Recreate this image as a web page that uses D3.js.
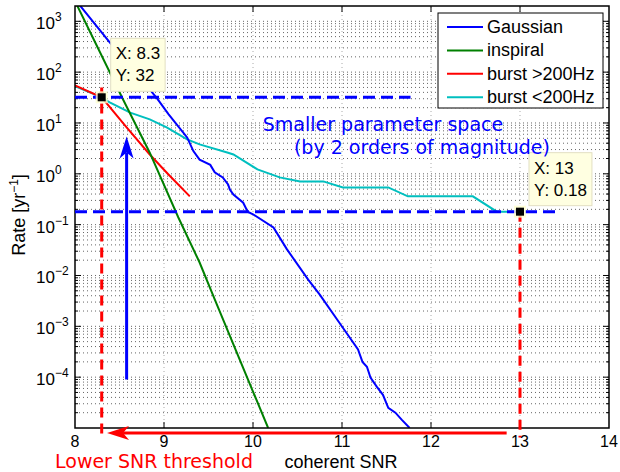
<!DOCTYPE html>
<html>
<head>
<meta charset="utf-8">
<script src="https://cdn.jsdelivr.net/npm/d3@7"></script>
<style>
  body { margin: 0; background: #fff; }
  svg text { font-family: "Liberation Sans", Arial, sans-serif; }
</style>
</head>
<body>
<div id="chart"></div>
<script>
// axis ticks
var snrTicks = [8, 9, 10, 11, 12, 13, 14];
var rateExps = [-4, -3, -2, -1, 0, 1, 2, 3];

// curves
var seriesNames = ["Gaussian", "inspiral", "burst >200Hz", "burst <200Hz"];
var seriesColors = ["#0000ff", "#008000", "#ff0000", "#00bfbf"];

var gaussSnr  = [8.0, 8.39, 8.84, 8.93, 9.05, 9.16, 9.26, 9.33, 9.40, 9.52, 9.57, 9.66, 9.72, 9.74, 9.78, 9.89, 9.94, 10.0, 10.23, 10.38, 10.62, 10.75, 11.0, 11.18, 11.23, 11.28, 11.32, 11.39, 11.46, 11.52, 11.60, 11.67, 11.76];
var gaussRate = [2700, 386, 46, 29, 15, 8.6, 5.2, 2.8, 1.9, 1.5, 1.07, 0.85, 0.62, 0.49, 0.39, 0.27, 0.18, 0.16, 0.088, 0.033, 0.0083, 0.0042, 0.00099, 3.5e-4, 2.0e-4, 1.6e-4, 9.8e-5, 6.5e-5, 4.5e-5, 2.5e-5, 2.0e-5, 1.46e-5, 1.0e-5];

var inspSnr  = [8.0, 8.54, 8.84, 9.16, 9.40, 9.57, 10.17];
var inspRate = [2500, 29, 2.6, 0.14, 0.018, 0.0034, 1.0e-5];

var burstHiSnr  = [8.0, 8.3, 8.58, 8.84, 9.05, 9.29];
var burstHiRate = [55, 32, 8.2, 2.4, 0.97, 0.36];

var burstLoSnr  = [8.0, 8.28, 8.39, 8.62, 8.84, 9.03, 9.26, 9.40, 9.72, 9.78, 10.05, 10.30, 10.53, 10.79, 11.01, 11.52, 11.74, 12.47, 12.74, 13.0];
var burstLoRate = [53, 33, 25.5, 16, 11.8, 8.2, 4.75, 3.8, 2.6, 2.4, 1.22, 0.85, 0.71, 0.71, 0.54, 0.54, 0.36, 0.36, 0.18, 0.18];

// data tips
var tipSnr  = [8.3, 13];
var tipRate = [32, 0.18];
var tipText = [["X: 8.3", "Y: 32"], ["X: 13", "Y: 0.18"]];

// annotation lines
var hLineRate = [32, 0.18];
var hLineEnd  = [11.77, 13.43];
var vLineSnr  = [8.3, 13];
var vLineTop  = [50, 0.18];
var vLineBottom = 6.5e-6;
var redArrowSnr = [12.85, 8.36], redArrowRate = 8e-6;
var blueArrowSnr = 8.58, blueArrowRate = [9e-5, 5.4];

var W = 620, H = 472;
var margin = {left: 75, right: 11, top: 6, bottom: 44};

var x = d3.scaleLinear().domain([8, 14]).range([margin.left, W - margin.right]);
var y = d3.scaleLog().domain([1e-5, 2000]).range([H - margin.bottom, margin.top]);

var svg = d3.select("#chart").append("svg").attr("width", W).attr("height", H);

svg.append("defs").append("clipPath").attr("id", "clip")
  .append("rect").attr("x", x(8)).attr("y", y(2000))
  .attr("width", x(14) - x(8)).attr("height", y(1e-5) - y(2000));

// grid
var minorVals = y.ticks().filter(function(v) { return v > 1e-5 && v < 2000; });
var grid = svg.append("g");
grid.selectAll("line.h").data(minorVals).enter().append("line")
  .attr("x1", x(8)).attr("x2", x(14))
  .attr("y1", function(d) { return y(d); }).attr("y2", function(d) { return y(d); })
  .attr("stroke", "#666").attr("stroke-width", 1).attr("stroke-dasharray", "1,3");
grid.selectAll("line.v").data(snrTicks.slice(1, -1)).enter().append("line")
  .attr("y1", y(1e-5)).attr("y2", y(2000))
  .attr("x1", function(d) { return x(d); }).attr("x2", function(d) { return x(d); })
  .attr("stroke", "#aaa").attr("stroke-width", 1).attr("stroke-dasharray", "1,3");

// ticks inside the box
var tk = svg.append("g").attr("stroke", "#000").attr("stroke-width", 1);
minorVals.forEach(function(v) {
  var major = Math.abs(Math.log10(v) - Math.round(Math.log10(v))) < 1e-9;
  var len = major ? 6 : 3;
  tk.append("line").attr("x1", x(8)).attr("x2", x(8) + len).attr("y1", y(v)).attr("y2", y(v));
  tk.append("line").attr("x1", x(14)).attr("x2", x(14) - len).attr("y1", y(v)).attr("y2", y(v));
});
snrTicks.slice(1, -1).forEach(function(v) {
  tk.append("line").attr("x1", x(v)).attr("x2", x(v)).attr("y1", y(1e-5)).attr("y2", y(1e-5) - 6);
  tk.append("line").attr("x1", x(v)).attr("x2", x(v)).attr("y1", y(2000)).attr("y2", y(2000) + 6);
});

// curves
var line = d3.line().x(function(d) { return x(d[0]); }).y(function(d) { return y(d[1]); });
var curves = [
  d3.zip(gaussSnr, gaussRate),
  d3.zip(inspSnr, inspRate),
  d3.zip(burstHiSnr, burstHiRate),
  d3.zip(burstLoSnr, burstLoRate)
];
var plot = svg.append("g").attr("clip-path", "url(#clip)");
[3, 2, 1, 0].forEach(function(i) {
  plot.append("path").attr("d", line(curves[i])).attr("fill", "none")
    .attr("stroke", seriesColors[i]).attr("stroke-width", 2);
});

// axes box
svg.append("rect").attr("x", x(8)).attr("y", y(2000))
  .attr("width", x(14) - x(8)).attr("height", y(1e-5) - y(2000))
  .attr("fill", "none").attr("stroke", "#000").attr("stroke-width", 1.5);

// dashed guide lines
hLineRate.forEach(function(r, i) {
  svg.append("line").attr("x1", x(8)).attr("x2", x(hLineEnd[i]))
    .attr("y1", y(r)).attr("y2", y(r))
    .attr("stroke", "#0000ff").attr("stroke-width", 3).attr("stroke-dasharray", "12,6");
});
vLineSnr.forEach(function(s, i) {
  svg.append("line").attr("x1", x(s)).attr("x2", x(s))
    .attr("y1", y(vLineTop[i])).attr("y2", y(vLineBottom))
    .attr("stroke", "#ff0000").attr("stroke-width", 3).attr("stroke-dasharray", "10,6");
});

// arrows
function arrow(x1, y1, x2, y2, color) {
  var ang = Math.atan2(y2 - y1, x2 - x1);
  var L = 22, w = 7, n = 16;
  var g = svg.append("g");
  var bx = x2 - Math.cos(ang) * n, by = y2 - Math.sin(ang) * n;
  g.append("line").attr("x1", x1).attr("y1", y1).attr("x2", bx).attr("y2", by)
    .attr("stroke", color).attr("stroke-width", 3);
  var px = -Math.sin(ang), py = Math.cos(ang);
  var b1 = [x2 - Math.cos(ang) * L + px * w, y2 - Math.sin(ang) * L + py * w];
  var b2 = [x2 - Math.cos(ang) * L - px * w, y2 - Math.sin(ang) * L - py * w];
  g.append("path").attr("d", "M" + x2 + "," + y2 + "L" + b1 + "L" + bx + "," + by + "L" + b2 + "Z")
    .attr("fill", color);
}
arrow(x(redArrowSnr[0]), y(redArrowRate), x(redArrowSnr[1]), y(redArrowRate), "#ff0000");
arrow(x(blueArrowSnr), y(blueArrowRate[0]), x(blueArrowSnr), y(blueArrowRate[1]), "#0000ff");

// tick labels
svg.selectAll("text.xt").data(snrTicks).enter().append("text")
  .attr("x", function(d) { return x(d); }).attr("y", y(1e-5) + 19)
  .attr("text-anchor", "middle").attr("font-size", 16).text(function(d) { return d; });
rateExps.forEach(function(e) {
  var t = svg.append("text").attr("x", 36).attr("y", y(Math.pow(10, e)) + 8).attr("font-size", 17);
  t.append("tspan").text("10");
  t.append("tspan").attr("dy", -8).attr("font-size", 12).text(e < 0 ? "\u2212" + (-e) : e);
});

// axis labels
svg.append("text").attr("x", x(11) - 1).attr("y", 468).attr("text-anchor", "middle")
  .attr("font-size", 18).text("coherent SNR");
var yl = svg.append("text").attr("transform", "translate(25,215) rotate(-90)")
  .attr("text-anchor", "middle").attr("font-size", 18);
yl.append("tspan").text("Rate [yr");
yl.append("tspan").attr("dy", -7).attr("font-size", 12).text("\u22121");
yl.append("tspan").attr("dy", 7).text("]");

// legend
var lg = svg.append("g");
lg.append("rect").attr("x", 438).attr("y", 13).attr("width", 165).attr("height", 95)
  .attr("fill", "#fff").attr("stroke", "#000").attr("stroke-width", 1);
seriesNames.forEach(function(name, i) {
  var ly = 27 + i * 23.4;
  lg.append("line").attr("x1", 447).attr("x2", 483).attr("y1", ly).attr("y2", ly)
    .attr("stroke", seriesColors[i]).attr("stroke-width", 2);
  lg.append("text").attr("x", 487).attr("y", ly + 6).attr("font-size", 18).text(name);
});

// data tips
tipSnr.forEach(function(s, i) {
  var px = x(s), py = y(tipRate[i]);
  svg.append("rect").attr("x", px - 6).attr("y", py - 6).attr("width", 12).attr("height", 12)
    .attr("fill", "#ffffcc").attr("opacity", 0.8);
  svg.append("rect").attr("x", px - 4).attr("y", py - 4).attr("width", 8).attr("height", 8)
    .attr("fill", "#000");
  var g = svg.append("g");
  var box = g.append("rect").attr("fill", "#ffffe1").attr("stroke", "#e2dfc2").attr("stroke-width", 1);
  var t1 = g.append("text").attr("x", px + 14).attr("y", py - 38).attr("font-size", 17).text(tipText[i][0]);
  var t2 = g.append("text").attr("x", px + 14).attr("y", py - 16).attr("font-size", 17).text(tipText[i][1]);
  var w = Math.max(t1.node().getComputedTextLength(), t2.node().getComputedTextLength());
  box.attr("x", px + 9).attr("y", py - 59).attr("width", w + 10).attr("height", 53);
});

// annotation text (on top of the tips)
svg.append("text").attr("x", 55).attr("y", 468).attr("fill", "#ff0000")
  .style("font-family", "'DejaVu Sans', sans-serif").attr("font-size", 19).text("Lower SNR threshold");
svg.append("text").attr("x", x(10.11)).attr("y", 131).attr("fill", "#0000ff")
  .style("font-family", "'DejaVu Sans', sans-serif").attr("font-size", 19).text("Smaller parameter space");
svg.append("text").attr("x", x(10.46)).attr("y", 154).attr("fill", "#0000ff")
  .style("font-family", "'DejaVu Sans', sans-serif").attr("font-size", 19).text("(by 2 orders of magnitude)");
</script>
</body>
</html>
